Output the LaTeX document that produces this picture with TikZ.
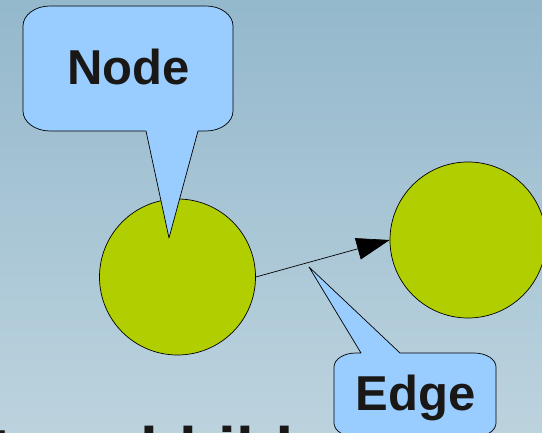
\documentclass[tikz,border=0pt]{standalone}
\usepackage{fontspec}
\setmainfont{Liberation Sans}
\usetikzlibrary{arrows.meta}
\definecolor{bgtop}{RGB}{148,184,204}
\definecolor{bgbot}{RGB}{188,211,222}
\definecolor{bubble}{RGB}{153,204,255}
\definecolor{knot}{RGB}{176,206,0}
\definecolor{ink}{RGB}{26,24,22}
\tikzset{
  knotnode/.style={circle, draw=black, line width=0.7pt, fill=knot, minimum size=156pt, inner sep=0pt},
  bubbleshape/.style={draw=black, line width=0.7pt, fill=bubble, line join=round},
  bubbletext/.style={font=\fontsize{49}{49}\selectfont\bfseries, text=ink, inner sep=0pt, anchor=base},
  bigtext/.style={font=\fontsize{64}{64}\selectfont\bfseries, text=ink, inner sep=0pt, anchor=base west},
  edgeline/.style={line width=0.7pt, draw=black, -{Triangle[length=33pt,width=22pt]}}
}
\begin{document}
\begin{tikzpicture}[x=1pt,y=1pt]
\useasboundingbox (0,0) rectangle (542,433);
\clip (0,0) rectangle (542,433);
\shade[top color=bgtop, bottom color=bgbot] (0,0) rectangle (542,433);
% cut-off title text at bottom
\node[bigtext] (title) at (-90.6,-40) {Daten abbilden};
% nodes
\node[knotnode] (c1) at (177.5,156) {};
\node[knotnode] (c2) at (468,193) {};
\draw[edgeline] (c1.east) -- (c2.west);
% Node callout
\draw[bubbleshape] (146,302) -- (169,195) -- (198,302) -- (206,302)
  arc[start angle=270, end angle=360, x radius=27, y radius=20] -- (233,407)
  arc[start angle=0, end angle=90, x radius=27, y radius=20] -- (50,427)
  arc[start angle=90, end angle=180, x radius=27, y radius=20] -- (23,322)
  arc[start angle=180, end angle=270, x radius=27, y radius=20] -- cycle;
\node[bubbletext] (nodelabel) at (128.5,348) {Node};
% Edge callout
\draw[bubbleshape] (361,80) -- (309,166) -- (400,80) -- (474,80)
  arc[start angle=90, end angle=0, x radius=22, y radius=14] -- (496,10)
  arc[start angle=0, end angle=-90, x radius=22, y radius=14] -- (356,-4)
  arc[start angle=270, end angle=180, x radius=22, y radius=14] -- (334,66)
  arc[start angle=180, end angle=90, x radius=22, y radius=14] -- cycle;
\node[bubbletext] (edgelabel) at (415.5,22) {Edge};
\end{tikzpicture}
\end{document}
